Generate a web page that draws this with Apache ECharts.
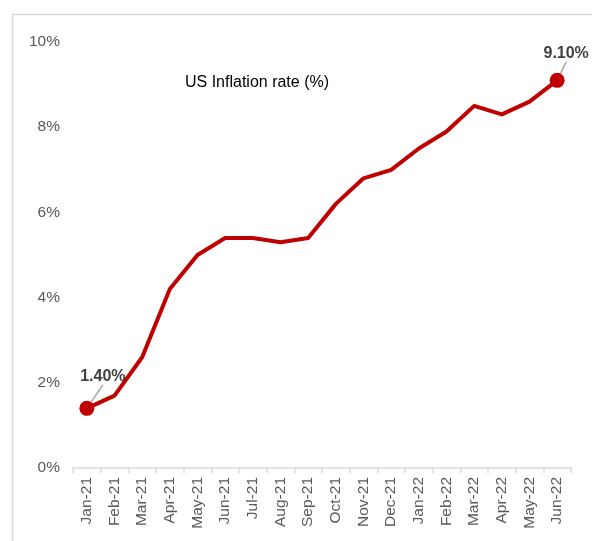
<!DOCTYPE html>
<html><head><meta charset="utf-8">
<script src="https://cdn.jsdelivr.net/npm/echarts@6/dist/echarts.min.js"></script>
<style>html,body{margin:0;padding:0;background:#fff}#c{width:592px;height:541px}</style>
</head><body><div id="c"></div>
<script>
var categories = ['Jan-21','Feb-21','Mar-21','Apr-21','May-21','Jun-21','Jul-21','Aug-21','Sep-21','Oct-21','Nov-21','Dec-21','Jan-22','Feb-22','Mar-22','Apr-22','May-22','Jun-22'];
var inflation = [1.4,1.7,2.6,4.2,5.0,5.4,5.4,5.3,5.4,6.2,6.8,7.0,7.5,7.9,8.5,8.3,8.6,9.1];
var labeledIdx = [0, 17];
var titleText = 'US Inflation rate (%)';

var chart = echarts.init(document.getElementById('c'), null, {renderer:'canvas'});
var data = inflation.map(function(v,i){
  if (labeledIdx.indexOf(i) >= 0) {
    return {value:v, symbol:'circle', symbolSize:15,
      label:{show:true, formatter:function(p){return p.value.toFixed(2)+'%';}},
      labelLine:{show:true}};
  }
  return {value:v};
});
chart.setOption({
  animation:false,
  graphic:[{type:'rect', left:10, top:12, shape:{width:640, height:600}, style:{fill:'none', stroke:'#d9d9d9', lineWidth:1.5}, silent:true}],
  title:{text:titleText, left:252, top:70, textAlign:'center',
    textStyle:{fontFamily:'Liberation Sans', fontSize:16, fontWeight:'normal', color:'#000'}},
  grid:{left:73, right:21, top:42, bottom:73},
  xAxis:{type:'category', data:categories, boundaryGap:true,
    axisLine:{lineStyle:{color:'#d9d9d9', width:1.5}},
    axisTick:{show:true, length:5, lineStyle:{color:'#d9d9d9', width:1.5}},
    axisLabel:{rotate:90, interval:0, fontFamily:'Liberation Sans', fontSize:15.5, color:'#595959', margin:9}},
  yAxis:{type:'value', min:0, max:10, interval:2,
    axisLine:{show:false}, axisTick:{show:false}, splitLine:{show:false},
    axisLabel:{formatter:'{value}%', fontFamily:'Liberation Sans', fontSize:15.5, color:'#595959', margin:13}},
  series:[{type:'line', data:data, symbol:'none', showSymbol:true,
    lineStyle:{color:'#c00000', width:4, join:'round'},
    itemStyle:{color:'#c00000'},
    label:{show:false, position:'top', fontFamily:'Liberation Sans', fontSize:16, fontWeight:'bold', color:'#404040'},
    labelLine:{lineStyle:{color:'#a6a6a6', width:1.5}},
    labelLayout:function(p){
      if (p.dataIndex === 0) return {dx:16, dy:-11};
      if (p.dataIndex === 17) return {dx:9, dy:-6};
      return {};
    }
  }]
});
</script></body></html>
